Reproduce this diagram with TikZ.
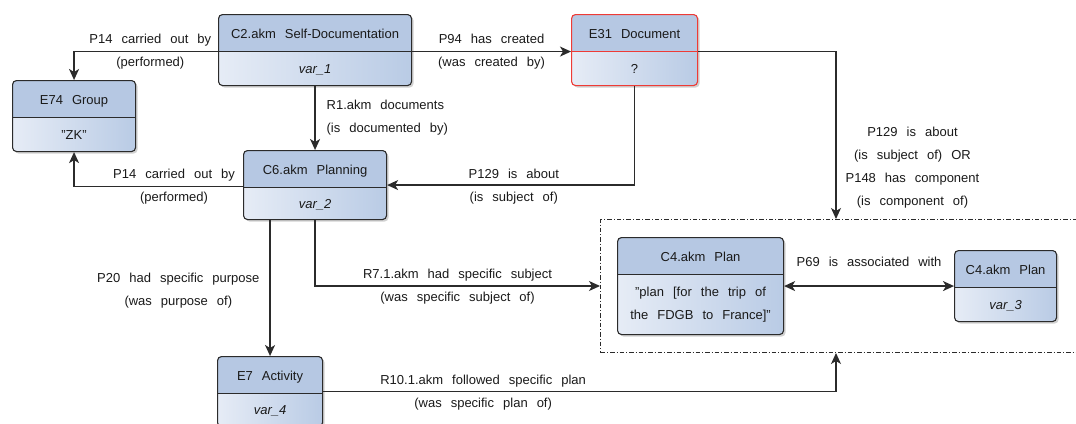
\documentclass[tikz,border=0pt]{standalone}
\usepackage{fontspec}
\setmainfont{Liberation Sans}[WordSpace=2.5]
\usetikzlibrary{arrows.meta,calc,shadows}

\definecolor{headblue}{HTML}{B6C8E3}
\definecolor{bodylight}{HTML}{E6ECF6}
\definecolor{bodydark}{HTML}{B9CBE5}
\definecolor{linegray}{HTML}{2B2B2B}
\definecolor{textblack}{HTML}{1A1A1A}
\definecolor{docred}{HTML}{EE3B36}
\colorlet{divcolor}{linegray}

\newcommand{\entityBox}[8][]{%
    \begin{scope}[#1]
    \node[entity, minimum width=#5pt, minimum height=#6pt, anchor=north west] (#2) at (#3,#4) {};
    \node[entitytext] (#2-title) at ([yshift=-19.5pt]#2.north) {#7};
    \node[entitytext, entityvalue] (#2-value) at ($(#2.south)!0.5!([yshift=-37pt]#2.north)$) {#8};
    \end{scope}
}

\begin{document}
\begin{tikzpicture}[x=1pt, y=-1pt,
    font=\fontsize{13}{23}\selectfont,
    boxline/.code={\colorlet{divcolor}{#1}},
    entity/.style={line width=1.1pt, rounded corners=4pt,
        drop shadow={shadow xshift=2pt, shadow yshift=-2pt, opacity=0.18, fill=black},
        path picture={
            \shade[sharp corners, left color=bodylight, right color=bodydark]
                (path picture bounding box.south west) rectangle (path picture bounding box.north east);
            \fill[sharp corners, headblue]
                (path picture bounding box.north west) rectangle ([yshift=-37pt]path picture bounding box.north east);
            \draw[sharp corners, divcolor, line width=1.1pt]
                ([yshift=-37pt]path picture bounding box.north west) -- ([yshift=-37pt]path picture bounding box.north east);
        },
        postaction={draw=divcolor}},
    entitytext/.style={text=textblack, inner sep=0pt, text height=12.1pt, text depth=2.8pt, align=center},
    entityvalue/.style={},
    plangroup/.style={draw=linegray, line width=1pt, dash pattern=on 4.5pt off 2pt on 1pt off 2pt,
        minimum width=490pt, minimum height=133pt, anchor=north west, inner sep=0pt},
    rel/.style={draw=linegray, line width=1.2pt, -{Stealth[length=11pt, width=10pt, inset=3pt]}},
    lbl/.style={text=textblack, align=center, inner sep=2pt}
]
    \path[use as bounding box, fill=white] (0,0) rectangle (1076,423);
    \clip (0,0) rectangle (1076,423);

    % --- plan group (dash dot frame) ---
    \node[plangroup] (planset) at (600,219) {};

    % --- entities ---
    \entityBox{selfdoc}{218}{14}{193}{71}{C2.akm Self-Documentation}{\textit{var\_1}}
    \entityBox{actor}{12}{80}{123}{71}{E74 Group}{"ZK"}
    \entityBox{planning}{243}{150}{143}{69}{C6.akm Planning}{\textit{var\_2}}
    \entityBox[boxline=docred]{doc}{571}{14}{126}{71}{E31 Document}{?}
    \entityBox{activity}{217}{356}{105}{70}{E7 Activity}{\textit{var\_4}}
    \entityBox[entityvalue/.style={text height=, text depth=}]{plan}{617}{237}{166}{97}{C4.akm Plan}{"plan [for the trip of\\the FDGB to France]"}
    \entityBox{planvar}{954}{250}{102}{71}{C4.akm Plan}{\textit{var\_3}}

    % --- relations ---
    \draw[rel] ([yshift=-1.5pt]selfdoc.west) -| (actor.north)
        node[lbl, pos=0.235] {P14 carried out by\\(performed)};
    \draw[rel] ([yshift=-1.5pt]selfdoc.east) -- ([yshift=-1.5pt]doc.west)
        node[lbl, midway] {P94 has created\\(was created by)};
    \draw[rel] (selfdoc.south) -- (planning.north)
        node[lbl, midway, right=9pt, align=left] {R1.akm documents\\(is documented by)};
    \draw[rel] ([yshift=-1.5pt]planning.west) -| (actor.south)
        node[lbl, pos=0.204] {P14 carried out by\\(performed)};
    \draw[rel] (doc.south) |- (planning.east)
        node[lbl, pos=0.744, yshift=-1.5pt] {P129 is about\\(is subject of)};
    \draw[rel] ([yshift=-1.5pt]doc.east) -| ([xshift=236pt]planset.north west)
        node[lbl, pos=0.844, right=7pt, yshift=-1pt] {P129 is about\\(is subject of) OR\\P148 has component\\(is component of)};
    \draw[rel] (activity.north |- planning.south) -- (activity.north)
        node[lbl, midway, left=8pt, yshift=-3pt] {P20 had specific purpose\\(was purpose of)};
    \draw[rel] (planning.south) |- (planset.west)
        node[lbl, pos=0.75, yshift=-1pt] {R7.1.akm had specific subject\\(was specific subject of)};
    \draw[rel] (activity.east) -| ([xshift=236pt]planset.south west)
        node[lbl, pos=0.156, yshift=-1.5pt] {R10.1.akm followed specific plan\\(was specific plan of)};
    \draw[rel, {Stealth[length=11pt, width=10pt, inset=3pt]}-{Stealth[length=11pt, width=10pt, inset=3pt]}]
        (plan.east) -- (planvar.west)
        node[lbl, midway, above=17pt] {P69 is associated with};

\end{tikzpicture}
\end{document}
